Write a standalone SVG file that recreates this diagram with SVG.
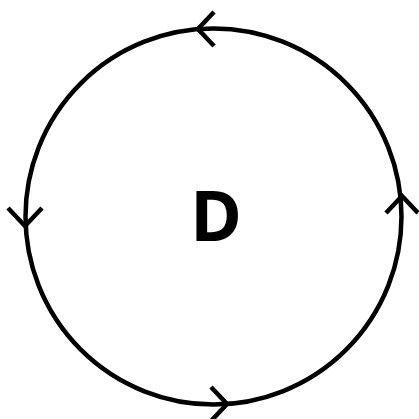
<svg xmlns="http://www.w3.org/2000/svg" width="419" height="419" viewBox="0 0 419 419">
<style>
.edge{fill:none;stroke:#000;stroke-width:4.5}
.arr{fill:none;stroke:#000;stroke-width:4.5;stroke-linecap:butt;stroke-linejoin:miter}
.lbl{font-family:"Noto Sans","DejaVu Sans",sans-serif;font-weight:bold;font-size:70px;fill:#000}
</style>
<g id="connectors">
<circle class="edge" cx="213.5" cy="216.5" r="188"/>
<path class="arr" d="M214,12 L198,29 L214,46"/>
<path class="arr" d="M8,208 L25,226 L42,208"/>
<path class="arr" d="M386,213 L402,196 L418,213"/>
<path class="arr" d="M211,387 L227,404 L211,421"/>
</g>
<g id="D">
<text class="lbl" x="216" y="241" text-anchor="middle">D</text>
</g>
</svg>
